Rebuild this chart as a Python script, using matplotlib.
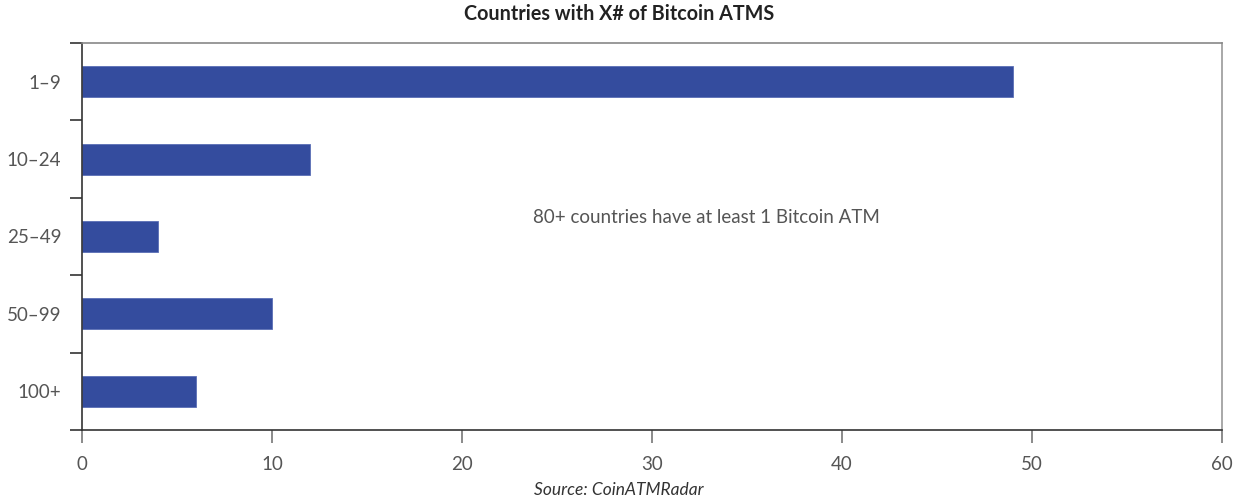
import matplotlib
matplotlib.use('Agg')
import matplotlib.pyplot as plt
import numpy as np

plt.rcParams['font.family'] = ['Lato', 'DejaVu Sans']

# data
categories = ['1–9', '10–24', '25–49', '50–99', '100+']
countries = [49, 12, 4, 10, 6]
x_ticks = [0, 10, 20, 30, 40, 50, 60]

bar_color = '#344c9e'
text_color = '#555555'

fig = plt.figure(figsize=(12.38, 5.01), dpi=100)
ax = fig.add_axes([0.0662, 0.1417, 0.9209, 0.7725])

y = np.arange(len(categories))
ax.barh(y, countries, height=0.4, color=bar_color, edgecolor='#5a6fb5', linewidth=0.6)

ax.set_xlim(0, 60)
ax.set_ylim(len(categories) - 0.5, -0.5)

ax.set_xticks(x_ticks)
ax.set_xticklabels([str(t) for t in x_ticks])
ax.set_yticks(y)
ax.set_yticklabels(categories)
ax.set_yticks(np.arange(len(categories) + 1) - 0.5, minor=True)

ax.tick_params(axis='y', which='major', length=0, pad=15, labelsize=13.5, labelcolor=text_color)
ax.tick_params(axis='y', which='minor', length=9, width=1.2, color='#333333')
ax.tick_params(axis='x', which='major', length=9, width=1.2, color='#777777',
               pad=10, labelsize=13.5, labelcolor=text_color)

ax.spines['left'].set_color('#333333')
ax.spines['bottom'].set_color('#333333')
ax.spines['top'].set_color('#888888')
ax.spines['right'].set_color('#999999')
for s in ax.spines.values():
    s.set_linewidth(1.2)

ax.text(0.548, 0.55, '80+ countries have at least 1 Bitcoin ATM', transform=ax.transAxes,
        ha='center', va='center', fontsize=13.5, color=text_color)

fig.text(0.5, 0.973, 'Countries with X# of Bitcoin ATMS', ha='center', va='center',
         fontsize=14.2, fontweight='bold', color='#222222')
fig.text(0.5, 0.022, 'Source: CoinATMRadar', ha='center', va='center',
         fontsize=12.5, style='italic', color='#333333')

fig.savefig('out.png', dpi=100)
